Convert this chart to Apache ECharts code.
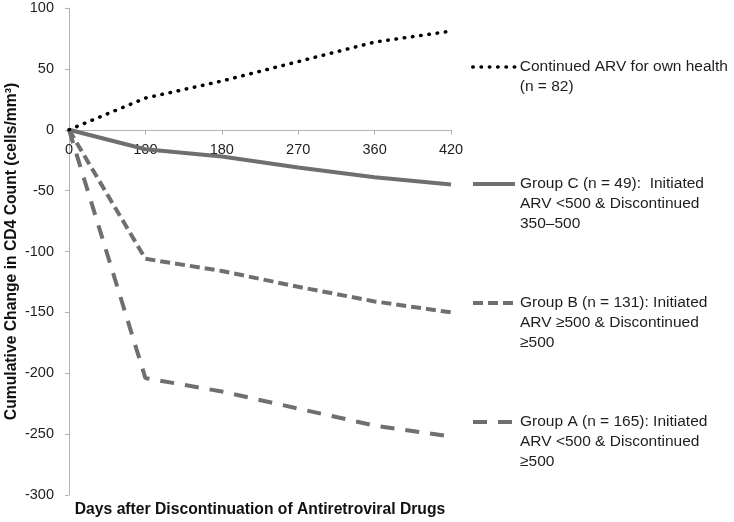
<!DOCTYPE html>
<html>
<head>
<meta charset="utf-8">
<script src="https://cdn.jsdelivr.net/npm/echarts@6/dist/echarts.min.js"></script>
<style>
  html, body { margin: 0; padding: 0; background: #fff; }
  #chart { width: 734px; height: 522px; }
</style>
</head>
<body>
<div id="chart"></div>
<script>
// data
var days = ['0', '100', '180', '270', '360', '420']
var continuedArv = [0, 26, 40, 56, 72, 81]
var groupC = [0, -16, -22, -31, -39, -45]
var groupB = [0, -106, -116, -129, -141, -150]
var groupA = [0, -204, -215, -229, -243, -252]
var yTicks = { min: -300, max: 100, step: 50 }

var nameCont = 'Continued ARV for own health\n(n = 82)'
var nameC = 'Group C (n = 49):  Initiated\nARV <500 & Discontinued\n350\u2013500'
var nameB = 'Group B (n = 131): Initiated\nARV \u2265500 & Discontinued\n\u2265500'
var nameA = 'Group A (n = 165): Initiated\nARV <500 & Discontinued\n\u2265500'

var font = '"Liberation Sans", Arial, sans-serif'
var gray = '#6f6f6f'
var axisGray = '#b4b4b4'

var gridTop = 8, gridBottom = 27, chartH = 522
// the x axis sits on y = 0: lift it from the grid bottom by the part below zero
var plotH = chartH - gridTop - gridBottom
var zeroLift = plotH * (0 - yTicks.min) / (yTicks.max - yTicks.min)

var chart = echarts.init(document.getElementById('chart'))

// one legend per entry so each can sit at its own height.
// blank lines in front keep the first line level with the sample line
function legendAt(name, top, lines, lineStyle) {
  return {
    data: [name],
    orient: 'vertical',
    left: 471,
    top: top,
    padding: 0,
    itemWidth: 42,
    itemHeight: 14,
    itemStyle: { opacity: 0 },
    lineStyle: lineStyle,
    formatter: function (n) {
      return new Array(lines).join('\n') + n
    },
    textStyle: { fontFamily: font, fontSize: 15.5, color: '#1e1e1e', lineHeight: 20 }
  }
}

var styleCont = { color: '#000', width: 3.5, type: [0.5, 7.8], cap: 'round' }
var styleC = { color: gray, width: 4, type: 'solid' }
var styleB = { color: gray, width: 4, type: [10, 5] }
var styleA = { color: gray, width: 4, type: [14, 11] }

chart.setOption({
  animation: false,
  grid: { left: 69, right: 283, top: gridTop, bottom: gridBottom, outerBoundsMode: 'none', containLabel: false },
  title: {
    text: 'Days after Discontinuation of Antiretroviral Drugs',
    left: 260, top: 502, textAlign: 'center', padding: 0,
    textStyle: { fontFamily: font, fontSize: 15.7, fontWeight: 'bold', color: '#111' }
  },
  legend: [
    legendAt(nameCont, 37, 2, styleCont),
    legendAt(nameC, 134, 3, styleC),
    legendAt(nameB, 253, 3, styleB),
    legendAt(nameA, 372, 3, styleA)
  ],
  xAxis: {
    type: 'category',
    data: days,
    boundaryGap: false,
    position: 'bottom',
    offset: -zeroLift,
    axisLine: { onZero: false, lineStyle: { color: axisGray, width: 1 } },
    axisTick: { show: true, alignWithLabel: true, length: 5, lineStyle: { color: axisGray } },
    axisLabel: { margin: 13, fontFamily: font, fontSize: 14.5, color: '#1e1e1e' },
    splitLine: { show: false }
  },
  yAxis: {
    type: 'value',
    min: yTicks.min, max: yTicks.max, interval: yTicks.step,
    name: 'Cumulative Change in CD4 Count (cells/mm\u00b3)',
    nameLocation: 'middle',
    nameGap: 49,
    nameMoveOverlap: false,
    nameTextStyle: { fontFamily: font, fontSize: 15.7, fontWeight: 'bold', color: '#111' },
    axisLine: { show: true, lineStyle: { color: axisGray } },
    axisTick: { show: true, length: 4, lineStyle: { color: axisGray } },
    axisLabel: { margin: 15, fontFamily: font, fontSize: 14.5, color: '#1e1e1e' },
    splitLine: { show: false }
  },
  series: [
    { name: nameCont, type: 'line', data: continuedArv, symbol: 'none', z: 5, lineStyle: styleCont, itemStyle: { color: '#000' } },
    { name: nameC, type: 'line', data: groupC, symbol: 'none', lineStyle: styleC, itemStyle: { color: gray } },
    { name: nameB, type: 'line', data: groupB, symbol: 'none', lineStyle: styleB, itemStyle: { color: gray } },
    { name: nameA, type: 'line', data: groupA, symbol: 'none', lineStyle: styleA, itemStyle: { color: gray } }
  ]
})
</script>
</body>
</html>
